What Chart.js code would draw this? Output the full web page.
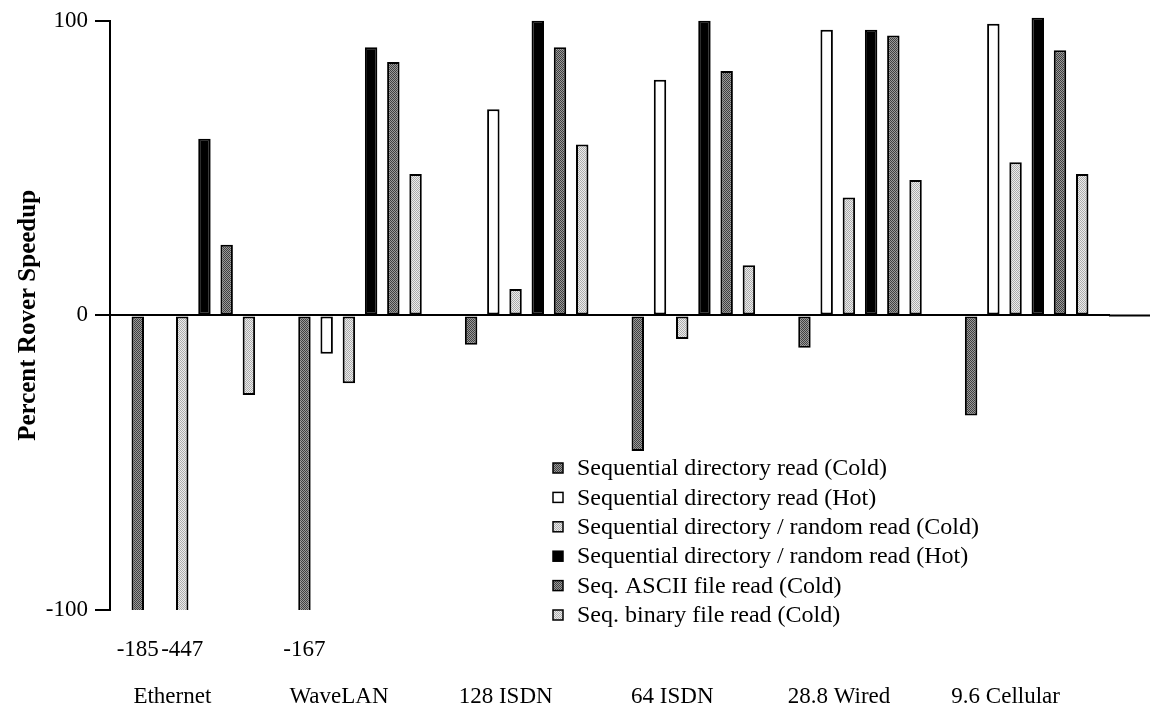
<!DOCTYPE html>
<html><head><meta charset="utf-8">
<script src="https://cdn.jsdelivr.net/npm/chart.js@4.4.1/dist/chart.umd.min.js"></script>
<style>html,body{margin:0;padding:0;background:#fff}#wrap{width:1163px;height:705px}</style>
</head><body><div id="wrap"><canvas id="c" width="1163" height="705"></canvas></div>
<script>
const categories = ['Ethernet', 'WaveLAN', '128 ISDN', '64 ISDN', '28.8 Wired', '9.6 Cellular'];
const seriesNames = [
  'Sequential directory read (Cold)',
  'Sequential directory read (Hot)',
  'Sequential directory / random read (Cold)',
  'Sequential directory / random read (Hot)',
  'Seq. ASCII file read (Cold)',
  'Seq. binary file read (Cold)'
];
const seqDirCold     = [-185, -167, -10, -46, -11, -34];
const seqDirHot      = [null, -13, 70, 80, 97, 99];
const seqDirRandCold = [-447, -23, 9, -8, 40, 52];
const seqDirRandHot  = [60, 91, 100, 100, 97, 101];
const asciiCold      = [24, 86, 91, 83, 95, 90];
const binaryCold     = [-27, 48, 58, 17, 46, 48];
const yTicks = [-100, 0, 100];
const yTitle = 'Percent Rover Speedup';

const SERIF = '"Liberation Serif", "Times New Roman", Times, serif';

function makePattern(base, dot) {
  const c = document.createElement('canvas'); c.width = 2; c.height = 2;
  const g = c.getContext('2d');
  g.fillStyle = base; g.fillRect(0, 0, 2, 2);
  g.fillStyle = dot; g.fillRect(0, 0, 1, 1); g.fillRect(1, 1, 1, 1);
  return g.createPattern(c, 'repeat');
}
const darkFill = makePattern('#9a9a9a', '#404040');
const lightFill = makePattern('#ececec', '#acacac');
const fills = [darkFill, '#ffffff', lightFill, '#000000', darkFill, lightFill];
const values = [seqDirCold, seqDirHot, seqDirRandCold, seqDirRandHot, asciiCold, binaryCold];

const datasets = seriesNames.map((name, i) => ({
  label: name,
  data: values[i],
  backgroundColor: fills[i],
  borderColor: '#000',
  borderWidth: 2,
  borderSkipped: false,
  categoryPercentage: 0.8,
  barPercentage: 0.56,
  clip: {left: false, right: false, top: false, bottom: 0}
}));

const extrasPlugin = {
  id: 'extras',
  beforeDatasetsDraw(chart) {
    const ctx = chart.ctx, a = chart.chartArea, y = chart.scales.y.getPixelForValue(0);
    ctx.save();
    ctx.strokeStyle = '#000'; ctx.lineWidth = 2;
    ctx.beginPath(); ctx.moveTo(a.right - 1, y); ctx.lineTo(a.right + 40, y); ctx.stroke();
    ctx.restore();
  },
  afterDraw(chart) {
    const ctx = chart.ctx, a = chart.chartArea, ys = chart.scales.y;
    ctx.save();
    // values beyond the axis minimum, written under their bars
    ctx.fillStyle = '#000';
    ctx.font = '23px ' + SERIF;
    ctx.textAlign = 'center'; ctx.textBaseline = 'middle';
    chart.data.datasets.forEach((ds, di) => {
      const meta = chart.getDatasetMeta(di);
      ds.data.forEach((v, i) => {
        if (v !== null && v < ys.min) ctx.fillText(String(v), meta.data[i].x, a.bottom + 40);
      });
    });
    // legend
    const bx = a.left + (a.right - a.left) * 0.443;
    const by = a.top + (a.bottom - a.top) * 0.759;
    ctx.font = '24px ' + SERIF;
    ctx.textAlign = 'left';
    chart.data.datasets.forEach((ds, i) => {
      const cy = by + i * 29.4;
      ctx.fillStyle = ds.backgroundColor;
      ctx.fillRect(bx, cy - 5, 10, 10);
      ctx.strokeStyle = '#000'; ctx.lineWidth = 1.5;
      ctx.strokeRect(bx, cy - 5, 10, 10);
      ctx.fillStyle = '#000';
      ctx.fillText(ds.label, bx + 24, cy + 1);
    });
    ctx.restore();
  }
};

new Chart(document.getElementById('c'), {
  type: 'bar',
  data: { labels: categories, datasets },
  options: {
    responsive: false, maintainAspectRatio: false, animation: false, devicePixelRatio: 1,
    layout: { padding: { top: 20, right: 53, bottom: 0, left: 0 } },
    plugins: { legend: { display: false }, tooltip: { enabled: false } },
    scales: {
      x: {
        type: 'category', offset: true,
        grid: { display: false, drawTicks: false },
        border: { display: false },
        ticks: { color: '#000', font: { family: SERIF, size: 23 }, padding: 73, labelOffset: -21, maxRotation: 0 },
        afterFit: s => { s.height = 95; }
      },
      y: {
        min: -100, max: 100,
        afterBuildTicks: s => { s.ticks = yTicks.map(v => ({ value: v })); },
        grid: {
          drawOnChartArea: true,
          color: c => (c.tick && c.tick.value === 0) ? '#000' : 'rgba(0,0,0,0)',
          lineWidth: 2, tickLength: 15, tickColor: '#000', tickWidth: 2
        },
        border: { display: true, color: '#000', width: 2 },
        ticks: { color: '#000', font: { family: SERIF, size: 23 }, padding: 7 },
        title: { display: true, text: yTitle, color: '#000', font: { family: SERIF, size: 25, weight: 'bold' }, padding: { top: 14, bottom: 0 } },
        afterFit: s => { s.width = 110; }
      }
    }
  },
  plugins: [extrasPlugin]
});
</script></body></html>
